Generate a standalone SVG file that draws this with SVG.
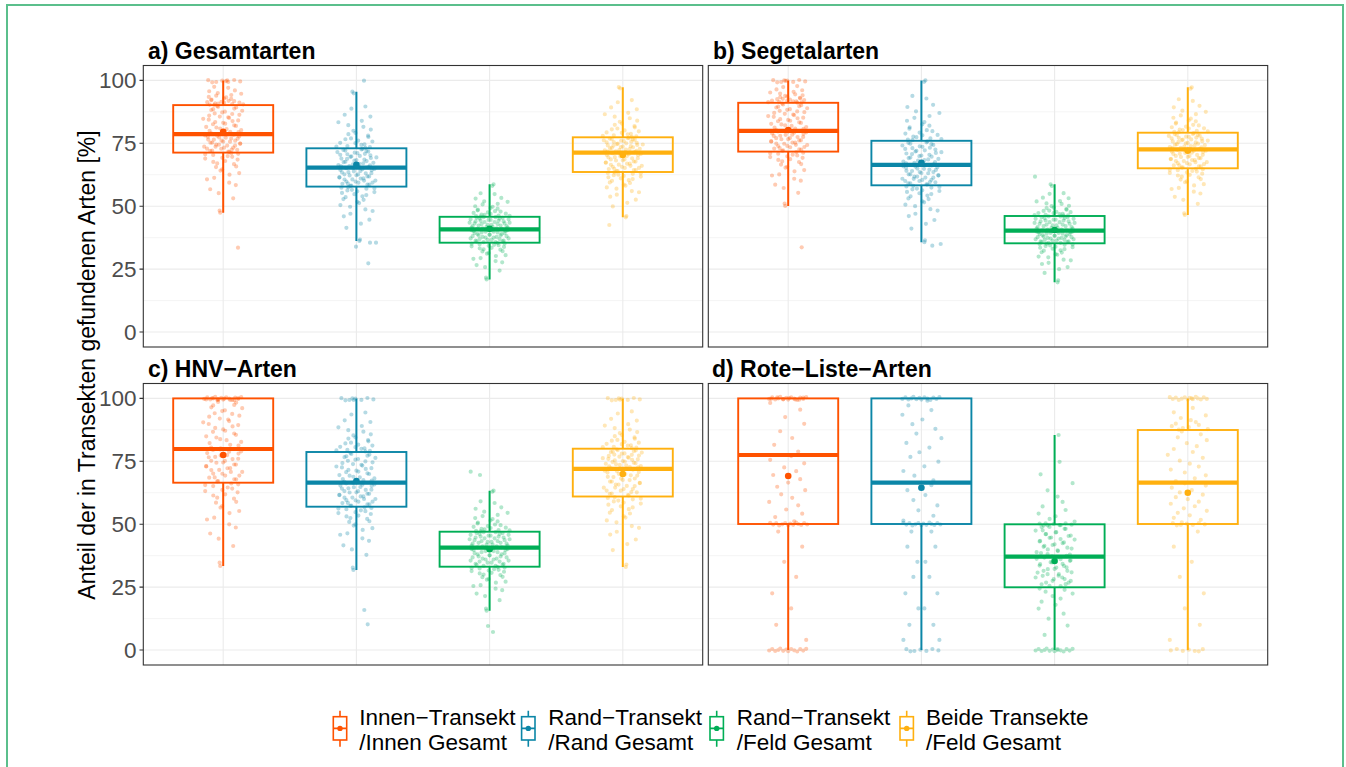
<svg xmlns="http://www.w3.org/2000/svg" xmlns:xlink="http://www.w3.org/1999/xlink" width="1346" height="767" viewBox="0 0 1346 767">
<style>
text{font-family:"Liberation Sans",Arial,Helvetica,sans-serif}
.tick{font-size:22.5px;fill:#4d4d4d;text-anchor:end}
.strip{font-size:23px;font-weight:bold;fill:#000}
.leg{font-size:22.5px;fill:#000}
.ytitle{font-size:23px;fill:#000;text-anchor:middle}
.gmaj{fill:none;stroke:#ebebeb;stroke-width:1.1}
.gmin{fill:none;stroke:#f2f2f2;stroke-width:0.8}
.panel{fill:none;stroke:#333;stroke-width:1.1}
.tk{fill:none;stroke:#333;stroke-width:1.1}
.box{fill:none;stroke-width:1.9}
.med{fill:none;stroke-width:4.2}
.wh{fill:none;stroke-width:2}
.pt{fill:none;stroke-width:4.2;stroke-linecap:round;stroke-opacity:0.3}
.o{stroke:#FF5200}.o .mean{fill:#FF5200;stroke:none}
.b{stroke:#0B86A7}.b .mean{fill:#0B86A7;stroke:none}
.g{stroke:#00AE56}.g .mean{fill:#00AE56;stroke:none}
.y{stroke:#FFB00F}.y .mean{fill:#FFB00F;stroke:none}
.kbox{fill:none;stroke-width:1.6}
.kl{fill:none;stroke-width:1.6}
</style>
<defs>
<path id="B1" class="pt" vector-effect="non-scaling-stroke" d="M-12 2.8h0M7 8.3h0M18 13.9h0M-3 19.4h0M-17 25h0M11 30.6h0M2 36.1h0M-8 41.7h0M15 47.2h0M-20 52.8h0M5 58.3h0M-14 63.9h0M9 69.4h0M-1 75h0M19 80.6h0M-10 86.1h0M13 91.7h0M-6 97.2h0"/>
<path id="B2" class="pt" vector-effect="non-scaling-stroke" d="M3 1.5h0M-18 7h0M16 12h0M-4 18h0M8 23.5h0M-15 29h0M12 35h0M0 40h0M-11 46h0M17 51h0M-7 57h0M4 62h0M-19 68h0M10 73h0M-2 79h0M14 85h0M-13 90h0M6 96h0"/>
<path id="T1" class="pt" vector-effect="non-scaling-stroke" d="M-9 1h0M20 3h0M-5 6h0M1 9h0M-16 12h0M11 16h0M-12 20h0M8 25h0M3 31h0M-7 38h0M18 46h0M-14 56h0M5 70h0M4 100h0"/>
<path id="T2" class="pt" vector-effect="non-scaling-stroke" d="M15 2h0M-10 4h0M9 7h0M-18 10h0M2 14h0M-6 18h0M13 23h0M-1 28h0M16 34h0M-9 42h0M6 50h0M-13 61h0M10 76h0M-3 100h0"/>
<path id="S" class="pt" vector-effect="non-scaling-stroke" d="M10 6h0M-14 18h0M4 30h0M-8 42h0M16 55h0M-3 67h0M12 80h0M-18 92h0"/>
<path id="C" class="pt" vector-effect="non-scaling-stroke" d="M-19 0.5h0M-16 -1h0M-13 1h0M-10 0h0M-8 -1.5h0M-5 0.8h0M-2 -0.5h0M0 1.2h0M3 -1h0M6 0.3h0M9 1.5h0M12 -0.8h0M15 0.6h0M18 -1.2h0"/>
<path id="C2" class="pt" vector-effect="non-scaling-stroke" d="M-15 -0.8h0M-7 1h0M-1 -0.3h0M5 0.9h0M11 -1h0M17 0.4h0M-11 1.3h0"/>
<g id="grid">
<path class="gmin" d="M143.3 300.55H702.7M143.3 237.65H702.7M143.3 174.75H702.7M143.3 111.85H702.7"/>
<path class="gmaj" d="M143.3 332H702.7M143.3 269.1H702.7M143.3 206.2H702.7M143.3 143.3H702.7M143.3 80.4H702.7M223.2 65.5V347M356.4 65.5V347M489.6 65.5V347M622.8 65.5V347"/>
</g>
<rect id="frame" class="panel" x="143.3" y="65.5" width="559.4" height="281.5"/>
</defs>
<rect x="0" y="0" width="1346" height="767" fill="#fff"/>
<rect id="outer-border" x="7" y="5" width="1336" height="790" fill="none" stroke="#5BBF8C" stroke-width="2"/>

<g id="gridlines">
<use href="#grid"/>
<use href="#grid" transform="translate(565,0)"/>
<use href="#grid" transform="translate(0,318)"/>
<use href="#grid" transform="translate(565,318)"/>
</g>

<g id="axes">
<path class="tk" d="M139.5 332H143.3M139.5 269.1H143.3M139.5 206.2H143.3M139.5 143.3H143.3M139.5 80.4H143.3M139.5 650H143.3M139.5 587.1H143.3M139.5 524.2H143.3M139.5 461.3H143.3M139.5 398.4H143.3"/>
<text class="tick" x="136.5" y="340">0</text>
<text class="tick" x="136.5" y="277.1">25</text>
<text class="tick" x="136.5" y="214.2">50</text>
<text class="tick" x="136.5" y="151.3">75</text>
<text class="tick" x="136.5" y="88.4">100</text>
<text class="tick" x="136.5" y="658">0</text>
<text class="tick" x="136.5" y="595.1">25</text>
<text class="tick" x="136.5" y="532.2">50</text>
<text class="tick" x="136.5" y="469.3">75</text>
<text class="tick" x="136.5" y="406.4">100</text>
<text class="ytitle" transform="translate(95,365) rotate(-90)">Anteil der in Transekten gefundenen Arten [%]</text>
</g>

<g id="strips">
<text class="strip" x="148" y="59">a) Gesamtarten</text>
<text class="strip" x="713" y="59">b) Segetalarten</text>
<text class="strip" x="148" y="377">c) HNV−Arten</text>
<text class="strip" x="712" y="377">d) Rote−Liste−Arten</text>
</g>

<!-- Panel a -->
<g id="a-innen" class="o">
<path class="wh" d="M223.2 80.4V105.1M223.2 152.6V212.7"/>
<rect class="box" x="173.2" y="105.1" width="100" height="47.5"/>
<path class="med" d="M173.2 134.2H273.2"/>
<use href="#T1" transform="translate(223.2,105.1) scale(1,-0.247)"/>
<use href="#B1" transform="translate(223.2,134.2) scale(1,-0.291)"/>
<use href="#B2" transform="translate(223.2,134.2) scale(1,0.184)"/>
<use href="#T2" transform="translate(223.2,152.6) scale(1,0.601)"/>
<use href="#T2" transform="translate(223.2,105.1) scale(-0.9,-0.24)"/>
<use href="#B2" transform="translate(223.2,134.2) scale(-0.85,-0.285)"/>
<use href="#B1" transform="translate(223.2,134.2) scale(-0.85,0.18)"/>
<use href="#T1" transform="translate(223.2,152.6) scale(-0.9,0.58)"/>
<use href="#C2" transform="translate(223.2,81)"/>
<path class="pt" d="M238 247.7h0"/>
<circle class="mean" cx="223.2" cy="131.7" r="3.3"/>
</g>
<g id="a-rand" class="b">
<path class="wh" d="M356.4 91.7V148.3M356.4 186.6V240.9"/>
<rect class="box" x="306.4" y="148.3" width="100" height="38.3"/>
<path class="med" d="M306.4 167.7H406.4"/>
<use href="#T1" transform="translate(356.4,148.3) scale(-1,-0.566)"/>
<use href="#B1" transform="translate(356.4,167.7) scale(-1,-0.194)"/>
<use href="#B2" transform="translate(356.4,167.7) scale(-1,0.189)"/>
<use href="#T2" transform="translate(356.4,186.6) scale(-1,0.543)"/>
<use href="#T2" transform="translate(356.4,148.3) scale(0.9,-0.55)"/>
<use href="#B2" transform="translate(356.4,167.7) scale(0.85,-0.19)"/>
<use href="#B1" transform="translate(356.4,167.7) scale(0.85,0.185)"/>
<use href="#T1" transform="translate(356.4,186.6) scale(0.9,0.53)"/>
<path class="pt" d="M364 80.7h0M356 246.7h0M368.3 263.3h0M370 242.7h0M376 242.7h0"/>
<circle class="mean" cx="356.4" cy="164.9" r="3.3"/>
</g>
<g id="a-feld" class="g">
<path class="wh" d="M489.6 184.3V216.8M489.6 242.7V279.4"/>
<rect class="box" x="439.6" y="216.8" width="100" height="25.9"/>
<path class="med" d="M439.6 229.3H539.6"/>
<use href="#T1" transform="translate(489.6,216.8) scale(1,-0.325)"/>
<use href="#B1" transform="translate(489.6,229.3) scale(1,-0.125)"/>
<use href="#B2" transform="translate(489.6,229.3) scale(1,0.134)"/>
<use href="#B1" transform="translate(489.6,229.3) scale(-1,-0.125)"/>
<use href="#B2" transform="translate(489.6,229.3) scale(-1,0.134)"/>
<use href="#T2" transform="translate(489.6,242.7) scale(1,0.367)"/>
<use href="#T2" transform="translate(489.6,216.8) scale(-0.9,-0.31)"/>
<use href="#T1" transform="translate(489.6,242.7) scale(-0.9,0.35)"/>
<circle class="mean" cx="489.6" cy="228.8" r="3.3"/>
</g>
<g id="a-beide" class="y">
<path class="wh" d="M622.8 87.2V137.3M622.8 172V217.3"/>
<rect class="box" x="572.8" y="137.3" width="100" height="34.7"/>
<path class="med" d="M572.8 152.6H672.8"/>
<use href="#T1" transform="translate(622.8,137.3) scale(-1,-0.501)"/>
<use href="#B1" transform="translate(622.8,152.6) scale(-1,-0.153)"/>
<use href="#B2" transform="translate(622.8,152.6) scale(-1,0.194)"/>
<use href="#T2" transform="translate(622.8,172) scale(-1,0.453)"/>
<use href="#T2" transform="translate(622.8,137.3) scale(0.9,-0.49)"/>
<use href="#B2" transform="translate(622.8,152.6) scale(0.85,-0.15)"/>
<use href="#B1" transform="translate(622.8,152.6) scale(0.85,0.19)"/>
<use href="#T1" transform="translate(622.8,172) scale(0.9,0.44)"/>
<path class="pt" d="M609.3 225h0"/>
<circle class="mean" cx="622.8" cy="154.9" r="3.3"/>
</g>

<!-- Panel b -->
<g id="b-innen" class="o">
<path class="wh" d="M788.2 80.4V102.8M788.2 151.6V205.9"/>
<rect class="box" x="738.2" y="102.8" width="100" height="48.8"/>
<path class="med" d="M738.2 130.9H838.2"/>
<use href="#T1" transform="translate(788.2,102.8) scale(-1,-0.224)"/>
<use href="#B1" transform="translate(788.2,130.9) scale(1,-0.281)"/>
<use href="#B2" transform="translate(788.2,130.9) scale(-1,0.207)"/>
<use href="#T2" transform="translate(788.2,151.6) scale(1,0.543)"/>
<use href="#T2" transform="translate(788.2,102.8) scale(0.9,-0.22)"/>
<use href="#B2" transform="translate(788.2,130.9) scale(-0.85,-0.275)"/>
<use href="#B1" transform="translate(788.2,130.9) scale(0.85,0.2)"/>
<use href="#T1" transform="translate(788.2,151.6) scale(-0.9,0.52)"/>
<use href="#C2" transform="translate(788.2,81)"/>
<path class="pt" d="M801.7 247.3h0"/>
<circle class="mean" cx="788.2" cy="130" r="3.3"/>
</g>
<g id="b-rand" class="b">
<path class="wh" d="M921.4 80.4V140.8M921.4 185.3V242.2"/>
<rect class="box" x="871.4" y="140.8" width="100" height="44.5"/>
<path class="med" d="M871.4 164.9H971.4"/>
<use href="#T1" transform="translate(921.4,140.8) scale(1,-0.604)"/>
<use href="#B1" transform="translate(921.4,164.9) scale(-1,-0.241)"/>
<use href="#B2" transform="translate(921.4,164.9) scale(1,0.204)"/>
<use href="#T2" transform="translate(921.4,185.3) scale(-1,0.569)"/>
<use href="#T2" transform="translate(921.4,140.8) scale(-0.9,-0.59)"/>
<use href="#B2" transform="translate(921.4,164.9) scale(0.85,-0.235)"/>
<use href="#B1" transform="translate(921.4,164.9) scale(-0.85,0.2)"/>
<use href="#T1" transform="translate(921.4,185.3) scale(0.9,0.55)"/>
<path class="pt" d="M932.3 245.7h0M940.7 244h0"/>
<circle class="mean" cx="921.4" cy="162.7" r="3.3"/>
</g>
<g id="b-feld" class="g">
<path class="wh" d="M1054.6 184.3V216M1054.6 243.3V282.3"/>
<rect class="box" x="1004.6" y="216" width="100" height="27.3"/>
<path class="med" d="M1004.6 230.7H1104.6"/>
<use href="#T1" transform="translate(1054.6,216) scale(-1,-0.317)"/>
<use href="#B1" transform="translate(1054.6,230.7) scale(1,-0.147)"/>
<use href="#B2" transform="translate(1054.6,230.7) scale(1,0.126)"/>
<use href="#B1" transform="translate(1054.6,230.7) scale(-1,-0.147)"/>
<use href="#B2" transform="translate(1054.6,230.7) scale(-1,0.126)"/>
<use href="#T2" transform="translate(1054.6,243.3) scale(-1,0.39)"/>
<use href="#T2" transform="translate(1054.6,216) scale(0.9,-0.3)"/>
<use href="#T1" transform="translate(1054.6,243.3) scale(0.9,0.37)"/>
<path class="pt" d="M1035 176.7h0"/>
<circle class="mean" cx="1054.6" cy="230" r="3.3"/>
</g>
<g id="b-beide" class="y">
<path class="wh" d="M1187.8 87.3V132.7M1187.8 168.3V215"/>
<rect class="box" x="1137.8" y="132.7" width="100" height="35.6"/>
<path class="med" d="M1137.8 149.3H1237.8"/>
<use href="#T1" transform="translate(1187.8,132.7) scale(1,-0.454)"/>
<use href="#B1" transform="translate(1187.8,149.3) scale(-1,-0.166)"/>
<use href="#B2" transform="translate(1187.8,149.3) scale(-1,0.19)"/>
<use href="#T2" transform="translate(1187.8,168.3) scale(1,0.467)"/>
<use href="#T2" transform="translate(1187.8,132.7) scale(-0.9,-0.44)"/>
<use href="#B2" transform="translate(1187.8,149.3) scale(0.85,-0.16)"/>
<use href="#B1" transform="translate(1187.8,149.3) scale(0.85,0.185)"/>
<use href="#T1" transform="translate(1187.8,168.3) scale(-0.9,0.45)"/>
<circle class="mean" cx="1187.8" cy="150.7" r="3.3"/>
</g>

<!-- Panel c -->
<g id="c-innen" class="o">
<path class="wh" d="M223.2 482.7V566"/>
<rect class="box" x="173.2" y="398.4" width="100" height="84.3"/>
<path class="med" d="M173.2 449H273.2"/>
<use href="#C" transform="translate(223.2,398.4)"/>
<use href="#C2" transform="translate(223.2,399) scale(-1,1)"/>
<use href="#B1" transform="translate(223.2,449) scale(1,-0.506)"/>
<use href="#B2" transform="translate(223.2,449) scale(-1,0.337)"/>
<use href="#T2" transform="translate(223.2,482.7) scale(1,0.833)"/>
<use href="#B2" transform="translate(223.2,449) scale(-0.85,-0.49)"/>
<use href="#B1" transform="translate(223.2,449) scale(0.85,0.33)"/>
<use href="#T1" transform="translate(223.2,482.7) scale(-0.9,0.8)"/>
<circle class="mean" cx="223.2" cy="455" r="3.3"/>
</g>
<g id="c-rand" class="b">
<path class="wh" d="M356.4 398.4V452M356.4 506.7V570"/>
<rect class="box" x="306.4" y="452" width="100" height="54.7"/>
<path class="med" d="M306.4 482.7H406.4"/>
<use href="#C2" transform="translate(356.4,399)"/>
<use href="#T1" transform="translate(356.4,452) scale(-1,-0.536)"/>
<use href="#B1" transform="translate(356.4,482.7) scale(1,-0.307)"/>
<use href="#B2" transform="translate(356.4,482.7) scale(-1,0.24)"/>
<use href="#T2" transform="translate(356.4,506.7) scale(1,0.633)"/>
<use href="#T2" transform="translate(356.4,452) scale(0.9,-0.52)"/>
<use href="#B2" transform="translate(356.4,482.7) scale(-0.85,-0.3)"/>
<use href="#B1" transform="translate(356.4,482.7) scale(0.85,0.235)"/>
<use href="#T1" transform="translate(356.4,506.7) scale(-0.9,0.61)"/>
<path class="pt" d="M364.3 610h0M367.7 624.3h0"/>
<circle class="mean" cx="356.4" cy="481" r="3.3"/>
</g>
<g id="c-feld" class="g">
<path class="wh" d="M489.6 490.7V531.7M489.6 566.7V610.7"/>
<rect class="box" x="439.6" y="531.7" width="100" height="35"/>
<path class="med" d="M439.6 547.7H539.6"/>
<use href="#T1" transform="translate(489.6,531.7) scale(1,-0.41)"/>
<use href="#B1" transform="translate(489.6,547.7) scale(1,-0.16)"/>
<use href="#B2" transform="translate(489.6,547.7) scale(1,0.19)"/>
<use href="#B1" transform="translate(489.6,547.7) scale(-1,-0.16)"/>
<use href="#B2" transform="translate(489.6,547.7) scale(-1,0.19)"/>
<use href="#T2" transform="translate(489.6,566.7) scale(1,0.44)"/>
<use href="#T2" transform="translate(489.6,531.7) scale(-0.9,-0.4)"/>
<use href="#T1" transform="translate(489.6,566.7) scale(-0.9,0.42)"/>
<path class="pt" d="M470.7 471.7h0M480 475h0M488 626h0M493 632h0"/>
<circle class="mean" cx="489.6" cy="549.3" r="3.3"/>
</g>
<g id="c-beide" class="y">
<path class="wh" d="M622.8 398.4V448.7M622.8 496.5V567"/>
<rect class="box" x="572.8" y="448.7" width="100" height="47.8"/>
<path class="med" d="M572.8 468.8H672.8"/>
<use href="#C2" transform="translate(622.8,399)"/>
<use href="#T1" transform="translate(622.8,448.7) scale(-1,-0.503)"/>
<use href="#B1" transform="translate(622.8,468.8) scale(1,-0.201)"/>
<use href="#B2" transform="translate(622.8,468.8) scale(1,0.277)"/>
<use href="#T2" transform="translate(622.8,496.5) scale(-1,0.705)"/>
<use href="#T2" transform="translate(622.8,448.7) scale(0.9,-0.49)"/>
<use href="#B2" transform="translate(622.8,468.8) scale(-0.85,-0.195)"/>
<use href="#B1" transform="translate(622.8,468.8) scale(-0.85,0.27)"/>
<use href="#T1" transform="translate(622.8,496.5) scale(0.9,0.68)"/>
<circle class="mean" cx="622.8" cy="474" r="3.3"/>
</g>

<!-- Panel d -->
<g id="d-innen" class="o">
<path class="wh" d="M788.2 524V650"/>
<rect class="box" x="738.2" y="398.4" width="100" height="125.6"/>
<path class="med" d="M738.2 455H838.2"/>
<use href="#C" transform="translate(788.2,398.4)"/>
<use href="#C2" transform="translate(788.2,398.4) scale(-1,1)"/>
<use href="#S" transform="translate(788.2,455) scale(1,-0.566)"/>
<use href="#B2" transform="translate(788.2,455) scale(1,0.69)"/>
<use href="#C" transform="translate(788.2,524) scale(-1,1)"/>
<use href="#S" transform="translate(788.2,524) scale(-1,1.26)"/>
<use href="#C" transform="translate(788.2,650)"/>
<circle class="mean" cx="788.2" cy="476" r="3.3"/>
</g>
<g id="d-rand" class="b">
<path class="wh" d="M921.4 524V650"/>
<rect class="box" x="871.4" y="398.4" width="100" height="125.6"/>
<path class="med" d="M871.4 482.7H971.4"/>
<use href="#C" transform="translate(921.4,398.4)"/>
<use href="#B1" transform="translate(921.4,482.7) scale(-1,-0.843)"/>
<use href="#S" transform="translate(921.4,482.7) scale(1,0.413)"/>
<use href="#C" transform="translate(921.4,524) scale(-1,1)"/>
<use href="#S" transform="translate(921.4,524) scale(1,1.26)"/>
<use href="#S" transform="translate(921.4,524) scale(-1,1.26)"/>
<use href="#C2" transform="translate(921.4,650)"/>
<circle class="mean" cx="921.4" cy="487.7" r="3.3"/>
</g>
<g id="d-feld" class="g">
<path class="wh" d="M1054.6 435V524.3M1054.6 587.3V650"/>
<rect class="box" x="1004.6" y="524.3" width="100" height="63"/>
<path class="med" d="M1004.6 556.7H1104.6"/>
<use href="#T1" transform="translate(1054.6,524.3) scale(1,-0.893)"/>
<use href="#C2" transform="translate(1054.6,524.3)"/>
<use href="#B1" transform="translate(1054.6,556.7) scale(-1,-0.324)"/>
<use href="#B2" transform="translate(1054.6,556.7) scale(1,0.306)"/>
<use href="#B2" transform="translate(1054.6,556.7) scale(-0.85,-0.31)"/>
<use href="#B1" transform="translate(1054.6,556.7) scale(0.85,0.3)"/>
<use href="#T2" transform="translate(1054.6,587.3) scale(-1,0.627)"/>
<use href="#C" transform="translate(1054.6,650)"/>
<circle class="mean" cx="1054.6" cy="561" r="3.3"/>
</g>
<g id="d-beide" class="y">
<path class="wh" d="M1187.8 398.4V430M1187.8 524V650"/>
<rect class="box" x="1137.8" y="430" width="100" height="94"/>
<path class="med" d="M1137.8 482.7H1237.8"/>
<use href="#C" transform="translate(1187.8,398.4) scale(-1,1)"/>
<use href="#T1" transform="translate(1187.8,430) scale(1,-0.316)"/>
<use href="#B1" transform="translate(1187.8,482.7) scale(1,-0.527)"/>
<use href="#B2" transform="translate(1187.8,482.7) scale(-1,0.413)"/>
<use href="#C2" transform="translate(1187.8,524)"/>
<use href="#S" transform="translate(1187.8,524) scale(1,1.26)"/>
<use href="#C2" transform="translate(1187.8,650) scale(-1,1)"/>
<circle class="mean" cx="1187.8" cy="492.7" r="3.3"/>
</g>

<g id="panel-frames">
<use href="#frame"/>
<use href="#frame" transform="translate(565,0)"/>
<use href="#frame" transform="translate(0,318)"/>
<use href="#frame" transform="translate(565,318)"/>
</g>

<g id="legend">
<g id="leg-innen" class="o">
<path class="kl" d="M340 710.7V716.7M340 740V746.7M333.3 728.4H346.7"/>
<rect class="kbox" x="333.3" y="716.7" width="13.4" height="23.3"/>
<circle class="mean" cx="340" cy="728.4" r="2.7"/>
<text class="leg" x="359.3" y="725" stroke="none">Innen−Transekt</text>
<text class="leg" x="359.3" y="750" stroke="none">/Innen Gesamt</text>
</g>
<g id="leg-rand" class="b">
<path class="kl" d="M528.3 710.7V716.7M528.3 740V746.7M521.6 728.4H535"/>
<rect class="kbox" x="521.6" y="716.7" width="13.4" height="23.3"/>
<circle class="mean" cx="528.3" cy="728.4" r="2.7"/>
<text class="leg" x="548.3" y="725" stroke="none">Rand−Transekt</text>
<text class="leg" x="548.3" y="750" stroke="none">/Rand Gesamt</text>
</g>
<g id="leg-feld" class="g">
<path class="kl" d="M716.7 710.7V716.7M716.7 740V746.7M710 728.4H723.4"/>
<rect class="kbox" x="710" y="716.7" width="13.4" height="23.3"/>
<circle class="mean" cx="716.7" cy="728.4" r="2.7"/>
<text class="leg" x="736.7" y="725" stroke="none">Rand−Transekt</text>
<text class="leg" x="736.7" y="750" stroke="none">/Feld Gesamt</text>
</g>
<g id="leg-beide" class="y">
<path class="kl" d="M906.7 710.7V716.7M906.7 740V746.7M900 728.4H913.4"/>
<rect class="kbox" x="900" y="716.7" width="13.4" height="23.3"/>
<circle class="mean" cx="906.7" cy="728.4" r="2.7"/>
<text class="leg" x="926" y="725" stroke="none">Beide Transekte</text>
<text class="leg" x="926" y="750" stroke="none">/Feld Gesamt</text>
</g>
</g>
</svg>
